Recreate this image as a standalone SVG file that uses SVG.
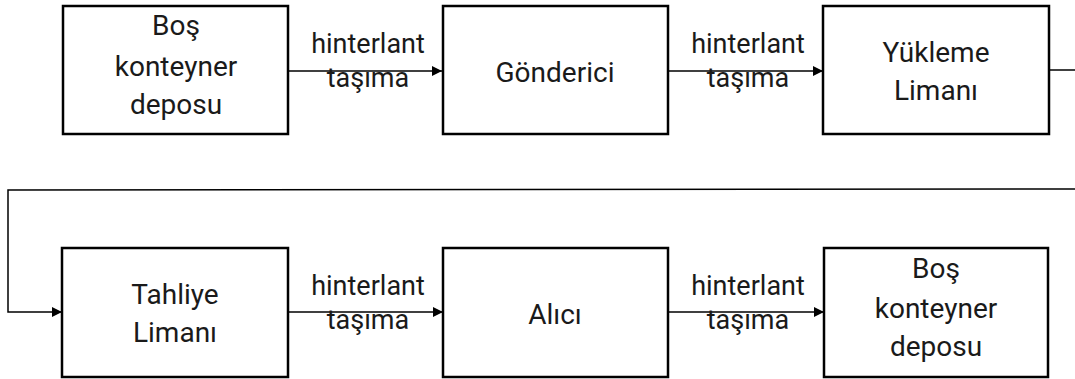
<svg xmlns="http://www.w3.org/2000/svg" width="1075" height="379" viewBox="0 0 1075 379">
  <style>
    .box { fill: #ffffff; stroke: #000000; stroke-width: 2.5; }
    .lbl { font-family: Roboto, "Liberation Sans", sans-serif; font-size: 28px; fill: #1a1a1a; text-anchor: middle; }
    .edge { font-family: Roboto, "Liberation Sans", sans-serif; font-size: 27px; fill: #1a1a1a; text-anchor: middle; }
    .wire { fill: none; stroke: #000000; stroke-width: 1.5; }
  </style>
  <defs>
    <marker id="arrow" viewBox="0 0 10 10" refX="10" refY="5" markerWidth="10" markerHeight="10" markerUnits="userSpaceOnUse" orient="auto">
      <path d="M0,0 L10,5 L0,10 z" fill="#000000"/>
    </marker>
  </defs>
  <rect width="1075" height="379" fill="#ffffff"/>

  <!-- connectors and their labels -->
  <g id="connectors">
    <line class="wire" x1="288" y1="71" x2="442" y2="71" marker-end="url(#arrow)"/>
    <line class="wire" x1="668" y1="71" x2="823" y2="71" marker-end="url(#arrow)"/>
    <polyline class="wire" points="1049,70 1075,70"/>
    <polyline class="wire" points="1075,189 8,190 8,312 62,312" marker-end="url(#arrow)"/>
    <line class="wire" x1="288" y1="312" x2="443" y2="312" marker-end="url(#arrow)"/>
    <line class="wire" x1="668" y1="312" x2="824" y2="312" marker-end="url(#arrow)"/>
    <text class="edge" x="368" y="53">hinterlant</text>
    <text class="edge" x="368" y="87">taşıma</text>
    <text class="edge" x="748" y="53">hinterlant</text>
    <text class="edge" x="748" y="87">taşıma</text>
    <text class="edge" x="368" y="295">hinterlant</text>
    <text class="edge" x="368" y="329">taşıma</text>
    <text class="edge" x="748" y="295">hinterlant</text>
    <text class="edge" x="748" y="329">taşıma</text>
  </g>

  <g id="bos-depo-1">
    <rect class="box" x="63" y="6" width="225" height="128"/>
    <text class="lbl" x="176" y="35">Boş</text>
    <text class="lbl" x="176" y="76">konteyner</text>
    <text class="lbl" x="176" y="114">deposu</text>
  </g>
  <g id="gonderici">
    <rect class="box" x="443" y="6" width="225" height="128"/>
    <text class="lbl" x="555" y="82">Gönderici</text>
  </g>
  <g id="yukleme-limani">
    <rect class="box" x="823" y="6" width="226" height="128"/>
    <text class="lbl" x="936" y="62">Yükleme</text>
    <text class="lbl" x="936" y="100">Limanı</text>
  </g>
  <g id="tahliye-limani">
    <rect class="box" x="62" y="248" width="226" height="129"/>
    <text class="lbl" x="175" y="304">Tahliye</text>
    <text class="lbl" x="175" y="342">Limanı</text>
  </g>
  <g id="alici">
    <rect class="box" x="443" y="248" width="225" height="129"/>
    <text class="lbl" x="555" y="324">Alıcı</text>
  </g>
  <g id="bos-depo-2">
    <rect class="box" x="824" y="248" width="224" height="129"/>
    <text class="lbl" x="936" y="278">Boş</text>
    <text class="lbl" x="936" y="318">konteyner</text>
    <text class="lbl" x="936" y="356">deposu</text>
  </g>
</svg>
